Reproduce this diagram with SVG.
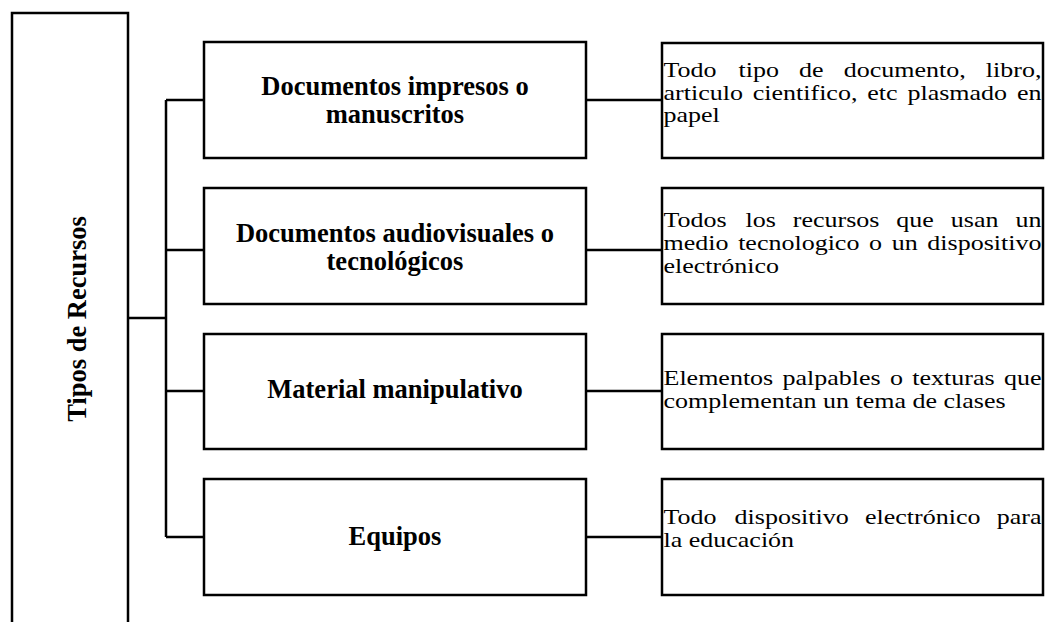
<svg xmlns="http://www.w3.org/2000/svg" width="1045" height="622" viewBox="0 0 1045 622">
<style>
.box{fill:#fff;stroke:#000;stroke-width:2.5}
.ln{fill:none;stroke:#000;stroke-width:2.5}
.lbl{font-family:"Liberation Serif","Times New Roman",serif;font-weight:bold;font-size:26.5px;fill:#000;text-anchor:middle}
.desc{font-family:"Liberation Serif","Times New Roman",serif;font-size:20px;fill:#000}
</style>
<rect width="1045" height="622" fill="#fff"/>
<g id="connectors">
<path class="ln" d="M128 318H166M166 100V537M166 100H204M166 250H204M166 391H204M166 537H204"/>
<path class="ln" d="M586 100H662M586 250H662M586 391H662M586 537H662"/>
</g>
<g id="root">
<rect class="box" x="12" y="13" width="116" height="640"/>
<text class="lbl" transform="translate(86 319) rotate(-90)">Tipos de Recursos</text>
</g>
<g id="n1">
<rect class="box" x="204" y="42" width="382" height="116"/>
<text class="lbl" x="395" y="95">Documentos impresos o</text>
<text class="lbl" x="395" y="123">manuscritos</text>
</g>
<g id="n2">
<rect class="box" x="204" y="188" width="382" height="116"/>
<text class="lbl" x="395" y="242">Documentos audiovisuales o</text>
<text class="lbl" x="395" y="270">tecnológicos</text>
</g>
<g id="n3">
<rect class="box" x="204" y="334" width="382" height="115"/>
<text class="lbl" x="395" y="397.5">Material manipulativo</text>
</g>
<g id="n4">
<rect class="box" x="204" y="479" width="382" height="116"/>
<text class="lbl" x="395" y="544.5">Equipos</text>
</g>
<g id="d1">
<rect class="box" x="662" y="43" width="381" height="115"/>
<g transform="translate(663.5 0) scale(1.3 1)">
<text class="desc" y="77"><tspan x="0">Todo</tspan> <tspan x="57.69">tipo</tspan> <tspan x="104.28">de</tspan> <tspan x="138.63">documento,</tspan> <tspan x="247.98">libro,</tspan></text>
<text class="desc" y="100"><tspan x="0">articulo</tspan> <tspan x="68.67">cientifico,</tspan> <tspan x="156.78">etc</tspan> <tspan x="187.67">plasmado</tspan> <tspan x="271.9">en</tspan></text>
<text class="desc" x="0" y="122.5">papel</text>
</g>
</g>
<g id="d2">
<rect class="box" x="662" y="188" width="381" height="116"/>
<g transform="translate(663.5 0) scale(1.3 1)">
<text class="desc" y="227"><tspan x="0">Todos</tspan> <tspan x="63.05">los</tspan> <tspan x="99.44">recursos</tspan> <tspan x="179.13">que</tspan> <tspan x="221.06">usan</tspan> <tspan x="270.77">un</tspan></text>
<text class="desc" y="250"><tspan x="0">medio</tspan> <tspan x="57.41">tecnologico</tspan> <tspan x="158.14">o</tspan> <tspan x="175.55">un</tspan> <tspan x="202.96">dispositivo</tspan></text>
<text class="desc" x="0" y="273">electrónico</text>
</g>
</g>
<g id="d3">
<rect class="box" x="662" y="334" width="381" height="115"/>
<g transform="translate(663.5 0) scale(1.3 1)">
<text class="desc" y="385"><tspan x="0">Elementos</tspan> <tspan x="91.59">palpables</tspan> <tspan x="174.28">o</tspan> <tspan x="191.43">texturas</tspan> <tspan x="261.9">que</tspan></text>
<text class="desc" x="0" y="408">complementan un tema de clases</text>
</g>
</g>
<g id="d4">
<rect class="box" x="662" y="479" width="381" height="116"/>
<g transform="translate(663.5 0) scale(1.3 1)">
<text class="desc" y="524"><tspan x="0">Todo</tspan> <tspan x="54.71">dispositivo</tspan> <tspan x="155">electrónico</tspan> <tspan x="256.35">para</tspan></text>
<text class="desc" x="0" y="547">la educación</text>
</g>
</g>
</svg>
